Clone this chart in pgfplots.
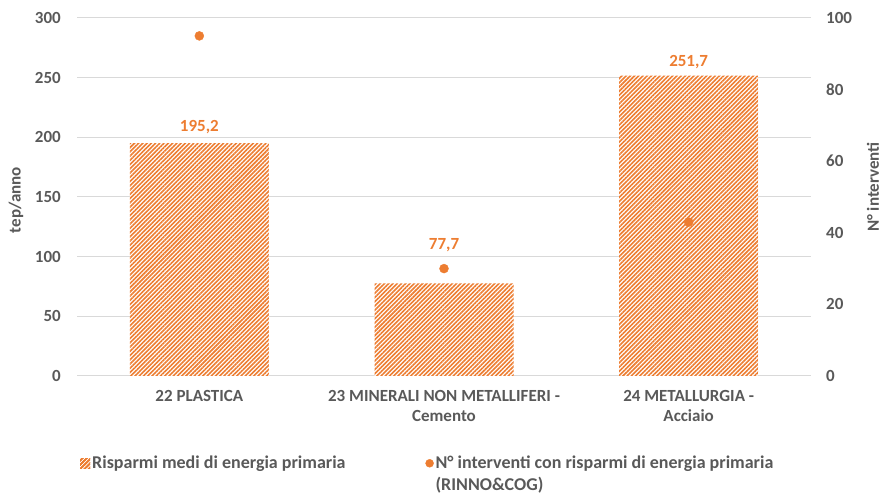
\documentclass[border=0pt]{standalone}
\usepackage{pgfplots}
\pgfplotsset{compat=1.18}
\usepackage{fontspec}
\setmainfont{Carlito}
\usetikzlibrary{patterns.meta}
\definecolor{orng}{HTML}{ED7D31}
\definecolor{txt}{HTML}{595959}
\definecolor{grd}{HTML}{D9D9D9}
\newcommand{\lbl}{\bfseries\fontsize{17}{20}\selectfont}
\newcommand{\lgd}{\bfseries\fontsize{18}{22}\selectfont}
\pgfplotstableread{
x y off
0 195.2 16
1 77.7 38
2 251.7 14
}\bars
\begin{document}
\begin{tikzpicture}[x=1pt,y=1pt]
\path[use as bounding box] (0,0) rectangle (885,494);
\begin{axis}[
  at={(77pt,118pt)}, anchor=south west,
  width=734pt, height=358pt, scale only axis,
  xmin=-0.5, xmax=2.5, ymin=0, ymax=300,
  axis line style={draw=none},
  major tick length=0pt,
  ytick={0,50,...,300},
  ymajorgrids, grid style={grd, line width=1pt},
  xtick={0,1,2},
  xticklabels={22 PLASTICA, 23 MINERALI NON METALLIFERI -\\Cemento, 24 METALLURGIA -\\Acciaio},
  xticklabel style={align=center, font=\lbl, text=txt, inner sep=0pt, anchor=north, yshift=-14pt},
  yticklabel style={font=\lbl, text=txt, inner sep=0pt, anchor=east, xshift=-16pt},
  /pgf/number format/assume math mode=true,
  ylabel={tep/anno},
  ylabel style={at={(axis description cs:0,0.5)}, anchor=center, yshift=61pt, xshift=-3pt, font=\lbl, text=txt},
  legend columns=2,
  legend style={at={(0,0)}, anchor=north west, xshift=0pt, yshift=-76pt, draw=none, fill=none, font=\lgd, text=txt,
     /tikz/every even column/.append style={column sep=78pt}, cells={anchor=west}},
  legend cell align=left,
]
\addplot[ybar, bar width=139pt, draw=none, fill=white,
  postaction={pattern={Lines[angle=45,distance=3pt,line width=1.6pt]}, pattern color=orng},
  visualization depends on={\thisrow{off} \as \myoff},
  nodes near coords={\pgfmathprintnumber[fixed, precision=1, fixed zerofill, use comma]{\pgfplotspointmeta}},
  nodes near coords style={font=\lbl, text=orng, anchor=center, yshift=\myoff pt},
  legend image code/.code={\fill[white] (0pt,-5pt) rectangle (10pt,5pt);
    \path[pattern={Lines[angle=45,distance=3pt,line width=1.6pt]}, pattern color=orng] (0pt,-5pt) rectangle (10pt,5pt);}]
  table[x=x, y=y] {\bars};
\addlegendentry{Risparmi medi di energia primaria}
\addlegendimage{only marks, mark=*, mark size=4pt, color=orng}
\addlegendentry{\parbox[t]{400pt}{\raggedright\lgd N° interventi con risparmi di energia primaria\\(RINNO\&COG)}}
\end{axis}
\begin{axis}[
  at={(77pt,118pt)}, anchor=south west,
  width=734pt, height=358pt, scale only axis,
  xmin=-0.5, xmax=2.5, ymin=0, ymax=100,
  axis line style={draw=none},
  major tick length=0pt,
  hide x axis,
  axis y line*=right,
  ytick={0,20,...,100},
  yticklabel style={font=\lbl, text=txt, inner sep=0pt, anchor=west, xshift=15pt},
  /pgf/number format/assume math mode=true,
  ylabel={N° interventi},
  ylabel style={at={(axis description cs:1,0.5)}, anchor=center, yshift=-62pt, xshift=10pt, font=\lbl, text=txt},
]
\addplot[only marks, mark=*, mark size=4.5pt, color=orng] coordinates {(0,95) (1,30) (2,43)};
\end{axis}
\end{tikzpicture}
\end{document}
